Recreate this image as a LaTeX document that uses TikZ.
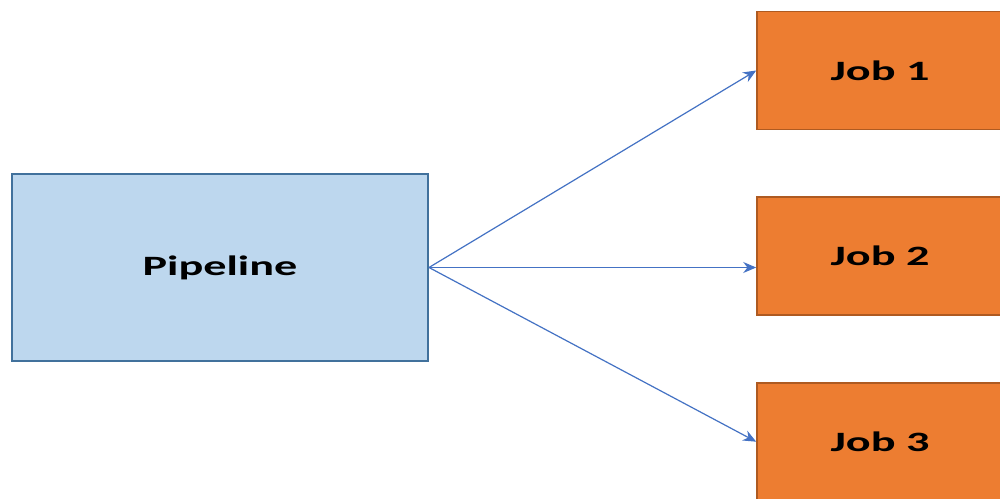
\documentclass[tikz,border=0pt]{standalone}
\usepackage{fontspec}
\usepackage{tikz}
\usetikzlibrary{arrows.meta,positioning}
% wide bold face for the box labels
\newfontfamily\boxfont[FakeStretch=1.65]{Carlito}
\definecolor{pipefill}{HTML}{BDD7EE}
\definecolor{pipedraw}{HTML}{41719C}
\definecolor{jobfill}{HTML}{ED7D31}
\definecolor{jobdraw}{HTML}{AE5A21}
\definecolor{linkblue}{HTML}{4472C4}
\tikzset{
    %Define standard arrow tip
    >={Stealth[length=6.5pt,width=5.5pt]},
    %Define style for boxes
    pipebox/.style={
           rectangle,
           draw=pipedraw, line width=1pt,
           fill=pipefill,
           minimum width=208pt,
           minimum height=93.5pt,
           font=\boxfont\bfseries\fontsize{14}{16}\selectfont,
           text=black,
           text centered},
    jobbox/.style={
           rectangle,
           draw=jobdraw, line width=0.8pt,
           fill=jobfill,
           minimum width=123pt,
           minimum height=59pt,
           font=\boxfont\bfseries\fontsize{14}{16}\selectfont,
           text=black,
           text centered},
    % Define arrow style
    pil/.style={
           ->,
           draw=linkblue,
           line width=0.6pt}
}

\begin{document}
\begin{tikzpicture}[x=0.5pt,y=-0.5pt,node distance=33pt]
 \useasboundingbox[clip] (0,0) rectangle (1000,498);
 \fill[white] (0,0) rectangle (1000,498);
 %nodes
\node[pipebox] (pipe) at (220,267.5) {Pipeline};
\node[jobbox] (job1) at (880,70.5) {Job 1};
\node[jobbox, below=of job1] (job2) {Job 2};
\node[jobbox, below=of job2] (job3) {Job 3};
 %links
\draw[pil] (pipe.east) -- (job1.west);
\draw[pil] (pipe.east) -- (pipe.east -| job2.west);
\draw[pil] (pipe.east) -- (job3.west);
\end{tikzpicture}
\end{document}
